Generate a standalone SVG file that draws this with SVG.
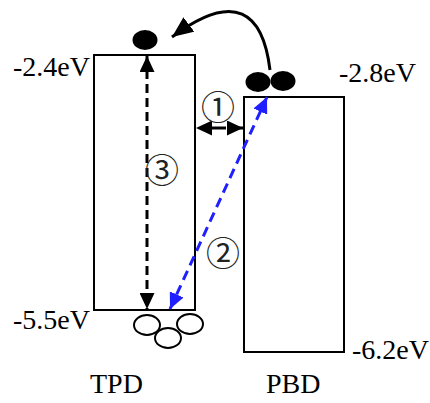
<svg xmlns="http://www.w3.org/2000/svg" width="430" height="403" viewBox="0 0 430 403">
<style>
.box{fill:none;stroke:#000;stroke-width:2}
.lbl{font-family:"Liberation Serif","Times New Roman",serif;font-size:28px;fill:#000}
.num{font-family:"Noto Sans CJK JP","DejaVu Sans",sans-serif;font-size:34px;fill:#222;text-anchor:middle}
.e{fill:#000}
.h{fill:#fff;stroke:#000;stroke-width:2}
</style>
<defs>
<marker id="ak" markerUnits="userSpaceOnUse" markerWidth="16" markerHeight="15" refX="16" refY="7.5" orient="auto-start-reverse"><path d="M0,0 L16,7.5 L0,15 z" fill="#000"/></marker>
<marker id="ab" markerUnits="userSpaceOnUse" markerWidth="16" markerHeight="15" refX="16" refY="7.5" orient="auto-start-reverse"><path d="M0,0 L16,7.5 L0,15 z" fill="#1f1fff"/></marker>
<marker id="ac" markerUnits="userSpaceOnUse" markerWidth="21" markerHeight="18" refX="21" refY="9" orient="auto"><path d="M0,0 L21,9 L0,18 z" fill="#000"/></marker>
</defs>
<rect width="430" height="403" fill="#fff"/>
<g id="tpd">
<rect class="box" x="94" y="55" width="101" height="255"/>
<text class="lbl" x="90" y="393">TPD</text>
<text class="lbl" x="13" y="76">-2.4eV</text>
<text class="lbl" x="13" y="329">-5.5eV</text>
</g>
<g id="pbd">
<rect class="box" x="244" y="97" width="100" height="255"/>
<text class="lbl" x="266" y="393">PBD</text>
<text class="lbl" x="339" y="82">-2.8eV</text>
<text class="lbl" x="352" y="359">-6.2eV</text>
</g>
<g id="electrons">
<ellipse class="e" cx="145" cy="40" rx="12.5" ry="10"/>
<ellipse class="e" cx="258" cy="82" rx="12.5" ry="10"/>
<ellipse class="e" cx="283" cy="81" rx="12.5" ry="10"/>
</g>
<g id="holes">
<ellipse class="h" cx="147" cy="325" rx="13" ry="10"/>
<ellipse class="h" cx="190" cy="324" rx="13" ry="10"/>
<ellipse class="h" cx="168" cy="338" rx="13" ry="10"/>
</g>
<g id="connectors">
<path d="M270,70 C263,12 235,-10 172,37" fill="none" stroke="#000" stroke-width="3" marker-end="url(#ac)"/>
<line x1="147" y1="56" x2="147" y2="309" stroke="#000" stroke-width="3" stroke-dasharray="9 5" marker-start="url(#ak)" marker-end="url(#ak)"/>
<line x1="196" y1="128" x2="243" y2="128" stroke="#000" stroke-width="3" stroke-dasharray="25 8" stroke-dashoffset="-5" marker-start="url(#ak)" marker-end="url(#ak)"/>
<line x1="170" y1="309" x2="267" y2="97" stroke="#1f1fff" stroke-width="3" stroke-dasharray="10 6" marker-start="url(#ab)" marker-end="url(#ab)"/>
</g>
<g id="labels">
<text class="num" x="218" y="120">①</text>
<text class="num" x="223" y="266">②</text>
<text class="num" x="162" y="183">③</text>
</g>
</svg>
